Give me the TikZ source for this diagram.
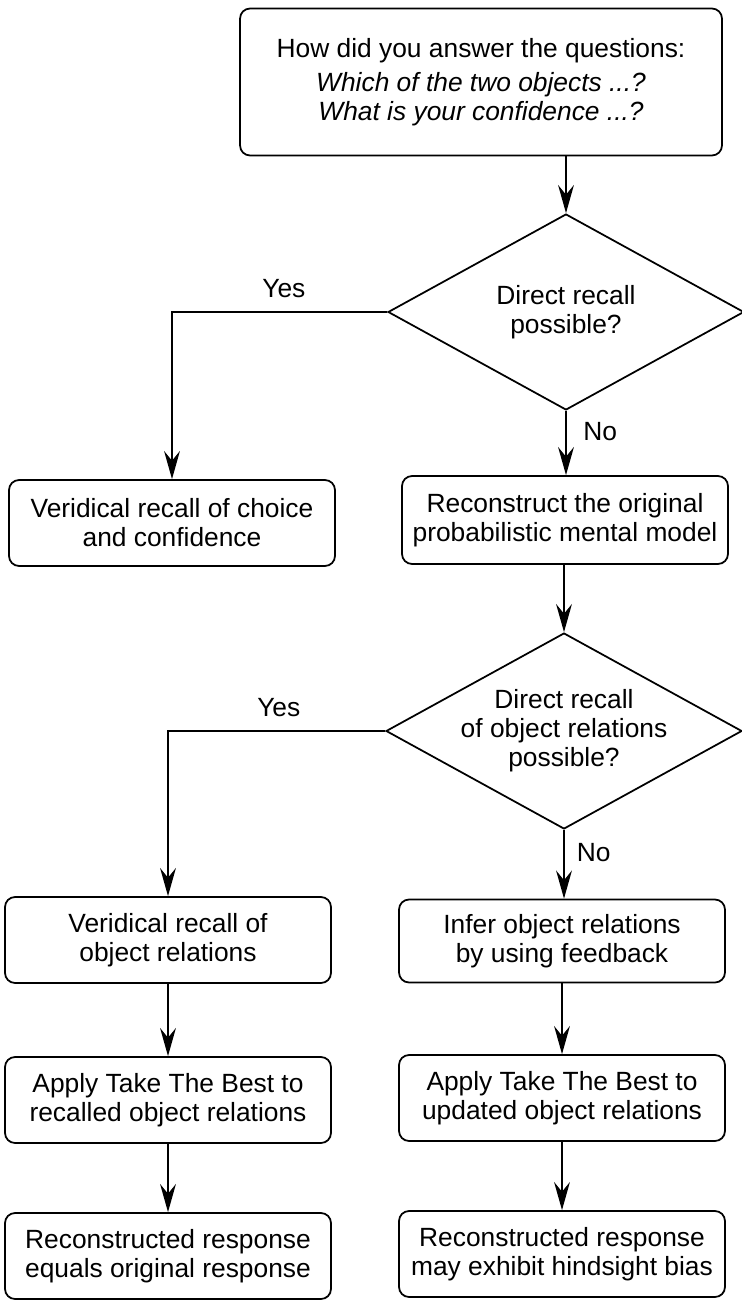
\documentclass[tikz,border=0pt]{standalone}
\usepackage{fontspec}
\setmainfont{Liberation Sans}
\usetikzlibrary{shapes.geometric, arrows.meta, calc}

\begin{document}
\begin{tikzpicture}[
    x=0.02cm, y=-0.02cm,
    line width=1pt,
    every node/.style={font=\fontsize{15}{16.5}\selectfont, align=center},
    box/.style={rectangle, draw, rounded corners=0.2cm, minimum width=6.52cm, minimum height=1.72cm, inner sep=2pt},
    decision/.style={diamond, draw, aspect=1.8, inner sep=-4pt, minimum width=7.12cm, minimum height=3.92cm},
    arr/.style={-{Stealth[length=16pt, width=9pt, inset=5.5pt]}},
    lbl/.style={draw=none, fill=none}
]
    \useasboundingbox (0,0) rectangle (742,1301);

    % Nodes
    \node[box, minimum width=9.64cm, minimum height=2.94cm] (q) at (481,82)
        {How did you answer the questions:\\[3pt]
         \textit{Which of the two objects ...?}\\
         \textit{What is your confidence ...?}};
    \node[decision] (d1) at (566,312) {Direct recall\\possible?};
    \node[box] (rec1) at (172,523) {Veridical recall of choice\\and confidence};
    \node[box, minimum height=1.76cm] (recon) at (565,520) {Reconstruct the original\\probabilistic mental model};
    \node[decision] (d2) at (564,731) {Direct recall\\of object relations\\possible?};
    \node[box] (rel) at (168,940) {Veridical recall of\\object relations};
    \node[box, minimum height=1.66cm] (infer) at (562,941) {Infer object relations\\by using feedback};
    \node[box] (take1) at (168,1100) {Apply Take The Best to\\recalled object relations};
    \node[box] (take2) at (562,1098) {Apply Take The Best to\\updated object relations};
    \node[box] (resp1) at (168,1256) {Reconstructed response\\equals original response};
    \node[box] (resp2) at (562,1254) {Reconstructed response\\may exhibit hindsight bias};

    % Edges (upper part)
    \draw[arr] (q.south -| d1.north) -- (d1.north);
    \draw[arr] (d1.west) -| node[lbl, above=4pt, pos=0.24] (yes1) {Yes} (rec1.north);
    \draw[arr] (d1.south) -- node[lbl, right=6pt, pos=0.32] (no1) {No} (d1.south |- recon.north);
    \draw[arr] (recon.south -| d2.north) -- (d2.north);

    % Edges (lower part)
    \draw[arr] (d2.west) -| node[lbl, above=4pt, pos=0.245] (yes2) {Yes} (rel.north);
    \draw[arr] (d2.south) -- node[lbl, right=3.5pt, pos=0.33] (no2) {No} (d2.south |- infer.north);
    \draw[arr] (rel) -- (take1);
    \draw[arr] (take1) -- (resp1);
    \draw[arr] (infer) -- (take2);
    \draw[arr] (take2) -- (resp2);
\end{tikzpicture}
\end{document}
